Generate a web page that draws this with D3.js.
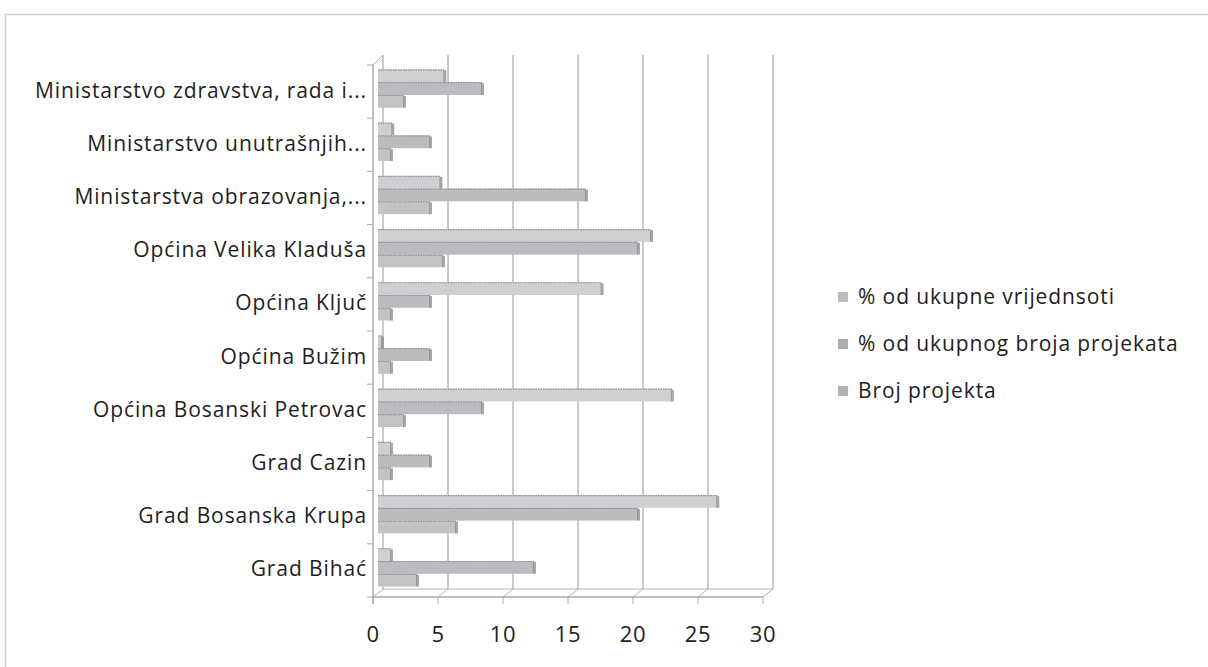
<!DOCTYPE html>
<html>
<head>
<meta charset="utf-8">
<script src="https://cdn.jsdelivr.net/npm/d3@7"></script>
<style>
  body { margin: 0; background: #fff; }
  text { font-family: "Open Sans", Lato, sans-serif; fill: #1e1e1e; }
</style>
</head>
<body>
<div class="chart"></div>
<script>
// data, top to bottom as shown
const categories = [
    'Ministarstvo zdravstva, rada i...',
    'Ministarstvo unutrašnjih...',
    'Ministarstva obrazovanja,...',
    'Općina Velika Kladuša',
    'Općina Ključ',
    'Općina Bužim',
    'Općina Bosanski Petrovac',
    'Grad Cazin',
    'Grad Bosanska Krupa',
    'Grad Bihać'
];
const seriesNames = ['% od ukupne vrijednsoti', '% od ukupnog broja projekata', 'Broj projekta'];
const pctValue = [5.1, 1.1, 4.8, 21.0, 17.2, 0.3, 22.6, 1.0, 26.1, 1.0];
const pctCount = [8, 4, 16, 20, 4, 4, 8, 4, 20, 12];
const projCount = [2, 1, 4, 5, 1, 1, 2, 1, 6, 3];
const xTicks = [0, 5, 10, 15, 20, 25, 30];

const seriesValues = [pctValue, pctCount, projCount];
const colors = ['#cfcfd3', '#bcbcc0', '#c3c3c3'];

const W = 1208, H = 667;
const front = { left: 373, right: 763, top: 65, bottom: 597 };
const depth = { dx: 10, dy: -8 };

const svg = d3.select('.chart')
    .append('svg')
    .attr('width', W)
    .attr('height', H);

// chart frame
svg.append('rect')
    .attr('x', 5.5).attr('y', 14.5)
    .attr('width', W + 10).attr('height', H + 10)
    .attr('fill', '#fff')
    .attr('stroke', '#d2d2d2')
    .attr('stroke-width', 1.5);

// scales
const xScale = d3.scaleLinear().domain([0, 30]).range([front.left, front.right]);
const yScale = d3.scaleBand()
    .domain(categories)
    .range([front.top, front.bottom])
    .paddingInner(0.28)
    .paddingOuter(0.14);
const ySub = d3.scaleBand()
    .domain(d3.range(seriesNames.length))
    .range([0, yScale.bandwidth()]);
const step = yScale.step();

const grid = svg.append('g').attr('stroke', '#b4b4b4').attr('fill', 'none');

// back wall gridlines
grid.selectAll('.vgrid')
    .data(xTicks)
    .enter()
    .append('line')
    .attr('x1', d => xScale(d) + depth.dx)
    .attr('x2', d => xScale(d) + depth.dx)
    .attr('y1', front.top + depth.dy - 2)
    .attr('y2', front.bottom + depth.dy)
    .attr('stroke-width', 1.4);

// floor
grid.append('line')
    .attr('x1', xScale(0) + depth.dx).attr('x2', xScale(30) + depth.dx)
    .attr('y1', front.bottom + depth.dy).attr('y2', front.bottom + depth.dy);
grid.selectAll('.floor')
    .data(xTicks)
    .enter()
    .append('line')
    .attr('x1', d => xScale(d))
    .attr('x2', d => xScale(d) + depth.dx)
    .attr('y1', front.bottom)
    .attr('y2', front.bottom + depth.dy);

// left side wall top edge
grid.append('line')
    .attr('x1', xScale(0)).attr('x2', xScale(0) + depth.dx)
    .attr('y1', front.top).attr('y2', front.top + depth.dy - 2);

// bars
const groups = svg.selectAll('.group')
    .data(categories)
    .enter()
    .append('g')
    .attr('transform', d => `translate(0, ${yScale(d) - 3})`);

groups.each(function(cat, i) {
    const g = d3.select(this);
    seriesValues.forEach((vals, s) => {
        const x0 = xScale(0) + depth.dx / 2;
        const x1 = xScale(vals[i]) + depth.dx / 2;
        const y0 = ySub(s);
        const h = ySub.bandwidth();
        g.append('rect')
            .attr('x', x0).attr('y', y0)
            .attr('width', x1 - x0).attr('height', h)
            .attr('fill', colors[s]);
        // top edge
        g.append('line')
            .attr('x1', x0).attr('x2', x1)
            .attr('y1', y0 + 0.5).attr('y2', y0 + 0.5)
            .attr('stroke', '#8e8e8e').attr('stroke-width', 1.2)
            .attr('stroke-dasharray', '1.5,1');
        // side face
        g.append('rect')
            .attr('x', x1 - 1).attr('y', y0 + 1)
            .attr('width', 3).attr('height', h - 1)
            .attr('fill', '#8a8a8a')
            .attr('opacity', 0.75);
    });
});

// front axes
const axes = svg.append('g').attr('stroke', '#a8a8a8').attr('fill', 'none');
axes.append('line')
    .attr('x1', xScale(0)).attr('x2', xScale(30))
    .attr('y1', front.bottom).attr('y2', front.bottom)
    .attr('stroke-width', 1.4);
axes.selectAll('.xtick')
    .data(xTicks)
    .enter()
    .append('line')
    .attr('x1', d => xScale(d)).attr('x2', d => xScale(d))
    .attr('y1', front.bottom).attr('y2', front.bottom + 7);
axes.append('line')
    .attr('x1', xScale(0)).attr('x2', xScale(0))
    .attr('y1', front.top).attr('y2', front.bottom + 7)
    .attr('stroke-width', 1.4);
axes.selectAll('.ytick')
    .data(d3.range(categories.length + 1))
    .enter()
    .append('line')
    .attr('x1', xScale(0) - 6).attr('x2', xScale(0))
    .attr('y1', d => front.top + d * step)
    .attr('y2', d => front.top + d * step);

// tick labels
svg.selectAll('.xlabel')
    .data(xTicks)
    .enter()
    .append('text')
    .attr('x', d => xScale(d))
    .attr('y', 642)
    .attr('text-anchor', 'middle')
    .attr('font-size', 22)
    .attr('letter-spacing', 0.6)
    .text(d => d);

svg.selectAll('.ylabel')
    .data(categories)
    .enter()
    .append('text')
    .attr('x', 367)
    .attr('y', d => yScale(d) + yScale.bandwidth() / 2 + 6)
    .attr('text-anchor', 'end')
    .attr('font-size', 21)
    .attr('letter-spacing', 0.9)
    .text(d => d);

// legend
const legend = svg.append('g')
    .attr('transform', 'translate(838, 297)');
const item = legend.selectAll('.item')
    .data(seriesNames)
    .enter()
    .append('g')
    .attr('transform', (d, i) => `translate(0, ${i * 47})`);
item.append('rect')
    .attr('x', 0).attr('y', -5)
    .attr('width', 10).attr('height', 10)
    .attr('fill', (d, i) => d3.color(colors[i]).darker(0.25));
item.append('text')
    .attr('x', 20).attr('y', 7)
    .attr('font-size', 21)
    .attr('letter-spacing', 0.9)
    .text(d => d);
</script>
</body>
</html>
